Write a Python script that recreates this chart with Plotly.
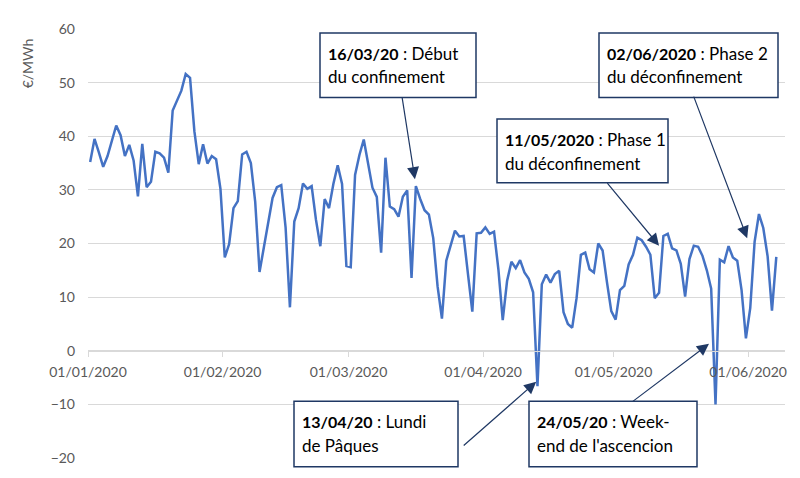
import pandas as pd
import plotly.graph_objects as go

# ---- data (€/MWh, daily, 01/01/2020 -> 07/06/2020) ----
start_date = "2020-01-01"
jan = [35.2, 39.5, 37.0, 34.3, 36.3, 39.0, 42.0, 40.2, 36.3, 38.4, 35.5, 28.8, 38.6, 30.5, 31.5, 37.1,
       36.8, 36.0, 33.2, 44.8, 46.6, 48.5, 51.6, 50.9, 40.9, 34.8, 38.5, 34.9, 36.3, 35.7, 30.2]
feb = [17.4, 19.9, 26.6, 27.9, 36.6, 37.1, 35.0, 27.8, 14.7, 19.3, 24.1, 28.5, 30.5, 30.9, 23.0,
       8.1, 24.1, 26.6, 31.2, 30.2, 30.7, 24.4, 19.5, 28.3, 26.6, 31.1, 34.6, 31.1, 15.8]
mar = [15.6, 32.8, 36.5, 39.4, 34.5, 30.4, 28.7, 18.3, 36.0, 26.9, 26.4, 25.0, 28.7, 29.9, 13.6,
       30.7, 28.3, 26.2, 25.4, 21.0, 12.0, 6.0, 16.8, 19.8, 22.4, 21.3, 21.4, 14.3, 7.3, 21.9, 22.0]
apr = [23.0, 21.8, 22.2, 15.2, 5.7, 13.0, 16.6, 15.4, 16.9, 14.6, 13.4, 10.9, -6.6, 12.4, 14.2,
       12.7, 14.3, 14.9, 7.2, 5.0, 4.3, 9.8, 17.9, 18.3, 15.2, 14.6, 20.0, 18.7, 12.8, 7.4]
may = [5.8, 11.3, 12.1, 16.1, 17.9, 21.1, 20.6, 19.4, 17.9, 9.8, 10.8, 21.4, 21.8, 19.1, 18.7,
       16.2, 10.1, 17.1, 19.6, 19.4, 17.7, 15.0, 11.6, -10.0, 17.0, 16.5, 19.5, 17.4, 16.8, 11.3, 2.3]
jun = [8.0, 20.3, 25.5, 22.9, 17.6, 7.5, 17.5]

prices = jan + feb + mar + apr + may + jun

tick_dates = ["2020-01-01", "2020-02-01", "2020-03-01", "2020-04-01", "2020-05-01", "2020-06-01"]
tick_labels = ["01/01/2020", "01/02/2020", "01/03/2020", "01/04/2020", "01/05/2020", "01/06/2020"]
y_ticks = [-20, -10, 0, 10, 20, 30, 40, 50, 60]
y_title = "€/MWh"

note_dates = ["16/03/20", "02/06/2020", "11/05/2020", "13/04/20", "24/05/20"]
note_line1 = [" : Début", " : Phase 2", " : Phase 1", " : Lundi", " : Week-"]
note_line2 = ["du confinement", "du déconfinement", "du déconfinement", "de Pâques", "end de l'ascencion"]

# layout of the callouts: box (left, top, right, bottom) in page px, arrow tip (date, value), tail offset px
note_boxes = [(320, 24, 476, 90), (599, 24, 778, 90), (497, 112, 668, 177),
              (294, 400, 458, 467), (529, 400, 697, 467)]
note_tips = [("2020-03-16 06:40", 32.0), ("2020-05-31 19:00", 21.0), ("2020-05-11 12:00", 19.6),
             ("2020-04-13 05:00", -5.8), ("2020-05-23 00:00", 1.3)]
note_tails = [(-13, -83), (-54, -143), (-53, -64), (-74, 65), (-78, 59)]

dates = pd.date_range(start_date, periods=len(prices), freq="D") + pd.Timedelta(hours=12)

FONT = "Lato, 'Liberation Sans', sans-serif"
GREY = "#595959"
NAVY = "#1F3864"

# plot area on the page (the page body adds an 8 px offset)
PL, PT, PR, PB = 88, 20, 785, 458


def px_to_paper(x, y):
    return (x - PL) / (PR - PL), (PB - y) / (PB - PT)


fig = go.Figure()
fig.add_trace(go.Scatter(x=dates, y=prices, mode="lines",
                         line=dict(color="#4472C4", width=2.5), showlegend=False,
                         hoverinfo="x+y"))

annotations, shapes = [], []
for i in range(len(note_dates)):
    (bl, bt, br, bb) = note_boxes[i]
    x0, y1 = px_to_paper(bl, bt)
    x1, y0 = px_to_paper(br, bb)
    shapes.append(dict(type="rect", xref="paper", yref="paper", x0=x0, x1=x1, y0=y0, y1=y1,
                       fillcolor="white", line=dict(color=NAVY, width=1.5), layer="above"))
    tx, ty = note_tips[i]
    ax, ay = note_tails[i]
    annotations.append(dict(
        x=tx, y=ty, xref="x", yref="y", text="", showarrow=True,
        ax=ax, ay=ay, arrowhead=2, arrowsize=2.0, arrowwidth=1.2, arrowcolor=NAVY))
    line1 = ('<span style="font-size:16px"><b>' + note_dates[i] + '</b></span>' + note_line1[i])
    for text, dy in ((line1, 21), (note_line2[i], 45)):
        _, ly = px_to_paper(bl, bt + dy)
        annotations.append(dict(
            x=x0, y=ly, xref="paper", yref="paper", xanchor="left", yanchor="middle",
            xshift=6, text=text, showarrow=False, align="left",
            font=dict(family=FONT, size=17, color="black")))

annotations.append(dict(
    x=-0.0875, y=0.92, xref="paper", yref="paper", text=y_title, textangle=-90,
    showarrow=False, xanchor="center", yanchor="middle",
    font=dict(family=FONT, size=14, color=GREY)))

fig.update_layout(
    width=792, height=470,
    margin=dict(l=PL - 8, r=792 - (PR - 8), t=PT - 8, b=470 - (PB - 8)),
    paper_bgcolor="white", plot_bgcolor="white",
    font=dict(family=FONT, size=14, color=GREY),
    xaxis=dict(
        type="date",
        range=[pd.Timestamp(start_date), pd.Timestamp(start_date) + pd.Timedelta(days=160.5)],
        tickvals=tick_dates, ticktext=tick_labels,
        showgrid=False, zeroline=False,
        showline=True, linecolor="#D9D9D9", linewidth=1,
        ticks="outside", ticklen=5, tickcolor="#D9D9D9",
        anchor="free", position=0.25, ticklabelstandoff=3,
        tickfont=dict(family=FONT, size=14, color=GREY),
    ),
    yaxis=dict(
        range=[-20, 60], tickvals=y_ticks,
        showgrid=True, gridcolor="#D9D9D9", gridwidth=1,
        zeroline=False, showline=False, ticks="",
        ticklabelstandoff=12,
        tickfont=dict(family=FONT, size=14, color=GREY),
    ),
    shapes=shapes,
    annotations=annotations,
)

fig.write_html("out.html")
